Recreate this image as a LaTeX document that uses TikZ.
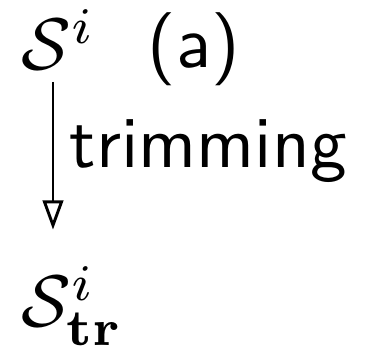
\documentclass[tikz,border=0pt]{standalone}
\usetikzlibrary{arrows.meta}
\begin{document}
\begin{tikzpicture}[x=0.0048cm,y=-0.0048cm,
  lbl/.style={inner sep=0pt, outer sep=0pt, anchor=base west},
  sflbl/.style={lbl, font=\sffamily},
  arr/.style={-{Triangle[open,length=4pt,width=2.8pt]}, line width=0.4pt}]
\useasboundingbox (0,0) rectangle (365,350);
\node[lbl] (s1) at (22,70) {$\mathcal{S}^i$};
\node[sflbl] (lab) at (148,68) {(a)};
\node[lbl] (s2) at (22,327) {$\mathcal{S}^i_{\mathbf{tr}}$};
\node[sflbl] (trim) at (70,168) {trimming};
\coordinate (ax) at (53,0);
\draw[arr, shorten <=0.0576cm, shorten >=0.1776cm] (s1.south -| ax) -- (s2.north -| ax);
\end{tikzpicture}
\end{document}
